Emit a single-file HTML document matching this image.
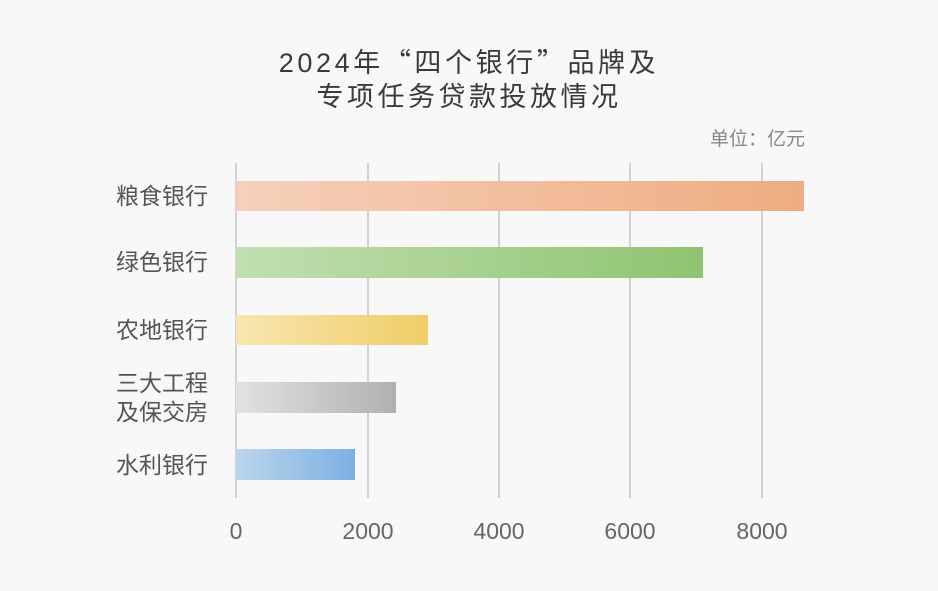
<!DOCTYPE html>
<html><head><meta charset="utf-8"><style>
html,body{margin:0;padding:0;background:#f8f8f8;}
svg{display:block}
text{font-family:"Liberation Sans","Noto Sans CJK SC",sans-serif;}
.cjk{font-family:"Noto Sans CJK SC",sans-serif;}
</style></head><body>
<svg width="938" height="591" viewBox="0 0 938 591" xmlns="http://www.w3.org/2000/svg">
<defs>
<linearGradient id="g1" x1="0" x2="1"><stop offset="0" stop-color="#f6d0bc"/><stop offset="1" stop-color="#eeac80"/></linearGradient>
<linearGradient id="g2" x1="0" x2="1"><stop offset="0" stop-color="#c1dfb1"/><stop offset="1" stop-color="#8fc470"/></linearGradient>
<linearGradient id="g3" x1="0" x2="1"><stop offset="0" stop-color="#f8e6b0"/><stop offset="1" stop-color="#efcd66"/></linearGradient>
<linearGradient id="g4" x1="0" x2="1"><stop offset="0" stop-color="#e2e2e2"/><stop offset="1" stop-color="#b0b0b0"/></linearGradient>
<linearGradient id="g5" x1="0" x2="1"><stop offset="0" stop-color="#bcd5ec"/><stop offset="1" stop-color="#7cb0e2"/></linearGradient>
</defs>
<rect width="938" height="591" fill="#f8f8f8"/>
<text x="469" y="72" text-anchor="middle" font-size="27" fill="#3a3a3a" letter-spacing="3.6">2024年<tspan class="cjk">“</tspan>四个银行<tspan class="cjk">”</tspan>品牌及</text>
<text x="469" y="106" text-anchor="middle" font-size="27" fill="#3a3a3a" letter-spacing="3.5">专项任务贷款投放情况</text>
<text x="805" y="145" text-anchor="end" font-size="19" fill="#888">单位：亿元</text>
<g stroke="#d2d2d2" stroke-width="2">
<line x1="236" y1="163" x2="236" y2="498"/>
<line x1="368" y1="163" x2="368" y2="498"/>
<line x1="499" y1="163" x2="499" y2="498"/>
<line x1="630" y1="163" x2="630" y2="498"/>
<line x1="762" y1="163" x2="762" y2="498"/>
</g>
<rect x="236" y="181" width="568" height="30" fill="url(#g1)"/>
<rect x="236" y="247" width="467" height="31" fill="url(#g2)"/>
<rect x="236" y="315" width="192" height="30" fill="url(#g3)"/>
<rect x="236" y="382" width="160" height="31" fill="url(#g4)"/>
<rect x="236" y="449" width="119" height="31" fill="url(#g5)"/>
<g font-size="23" fill="#555" text-anchor="end">
<text x="208" y="204">粮食银行</text>
<text x="208" y="270">绿色银行</text>
<text x="208" y="338">农地银行</text>
<text x="208" y="391">三大工程</text>
<text x="208" y="420">及保交房</text>
<text x="208" y="473">水利银行</text>
</g>
<g font-size="23" fill="#666" text-anchor="middle">
<text x="236" y="539">0</text>
<text x="368" y="539">2000</text>
<text x="499" y="539">4000</text>
<text x="630" y="539">6000</text>
<text x="762" y="539">8000</text>
</g>
</svg>
</body></html>
